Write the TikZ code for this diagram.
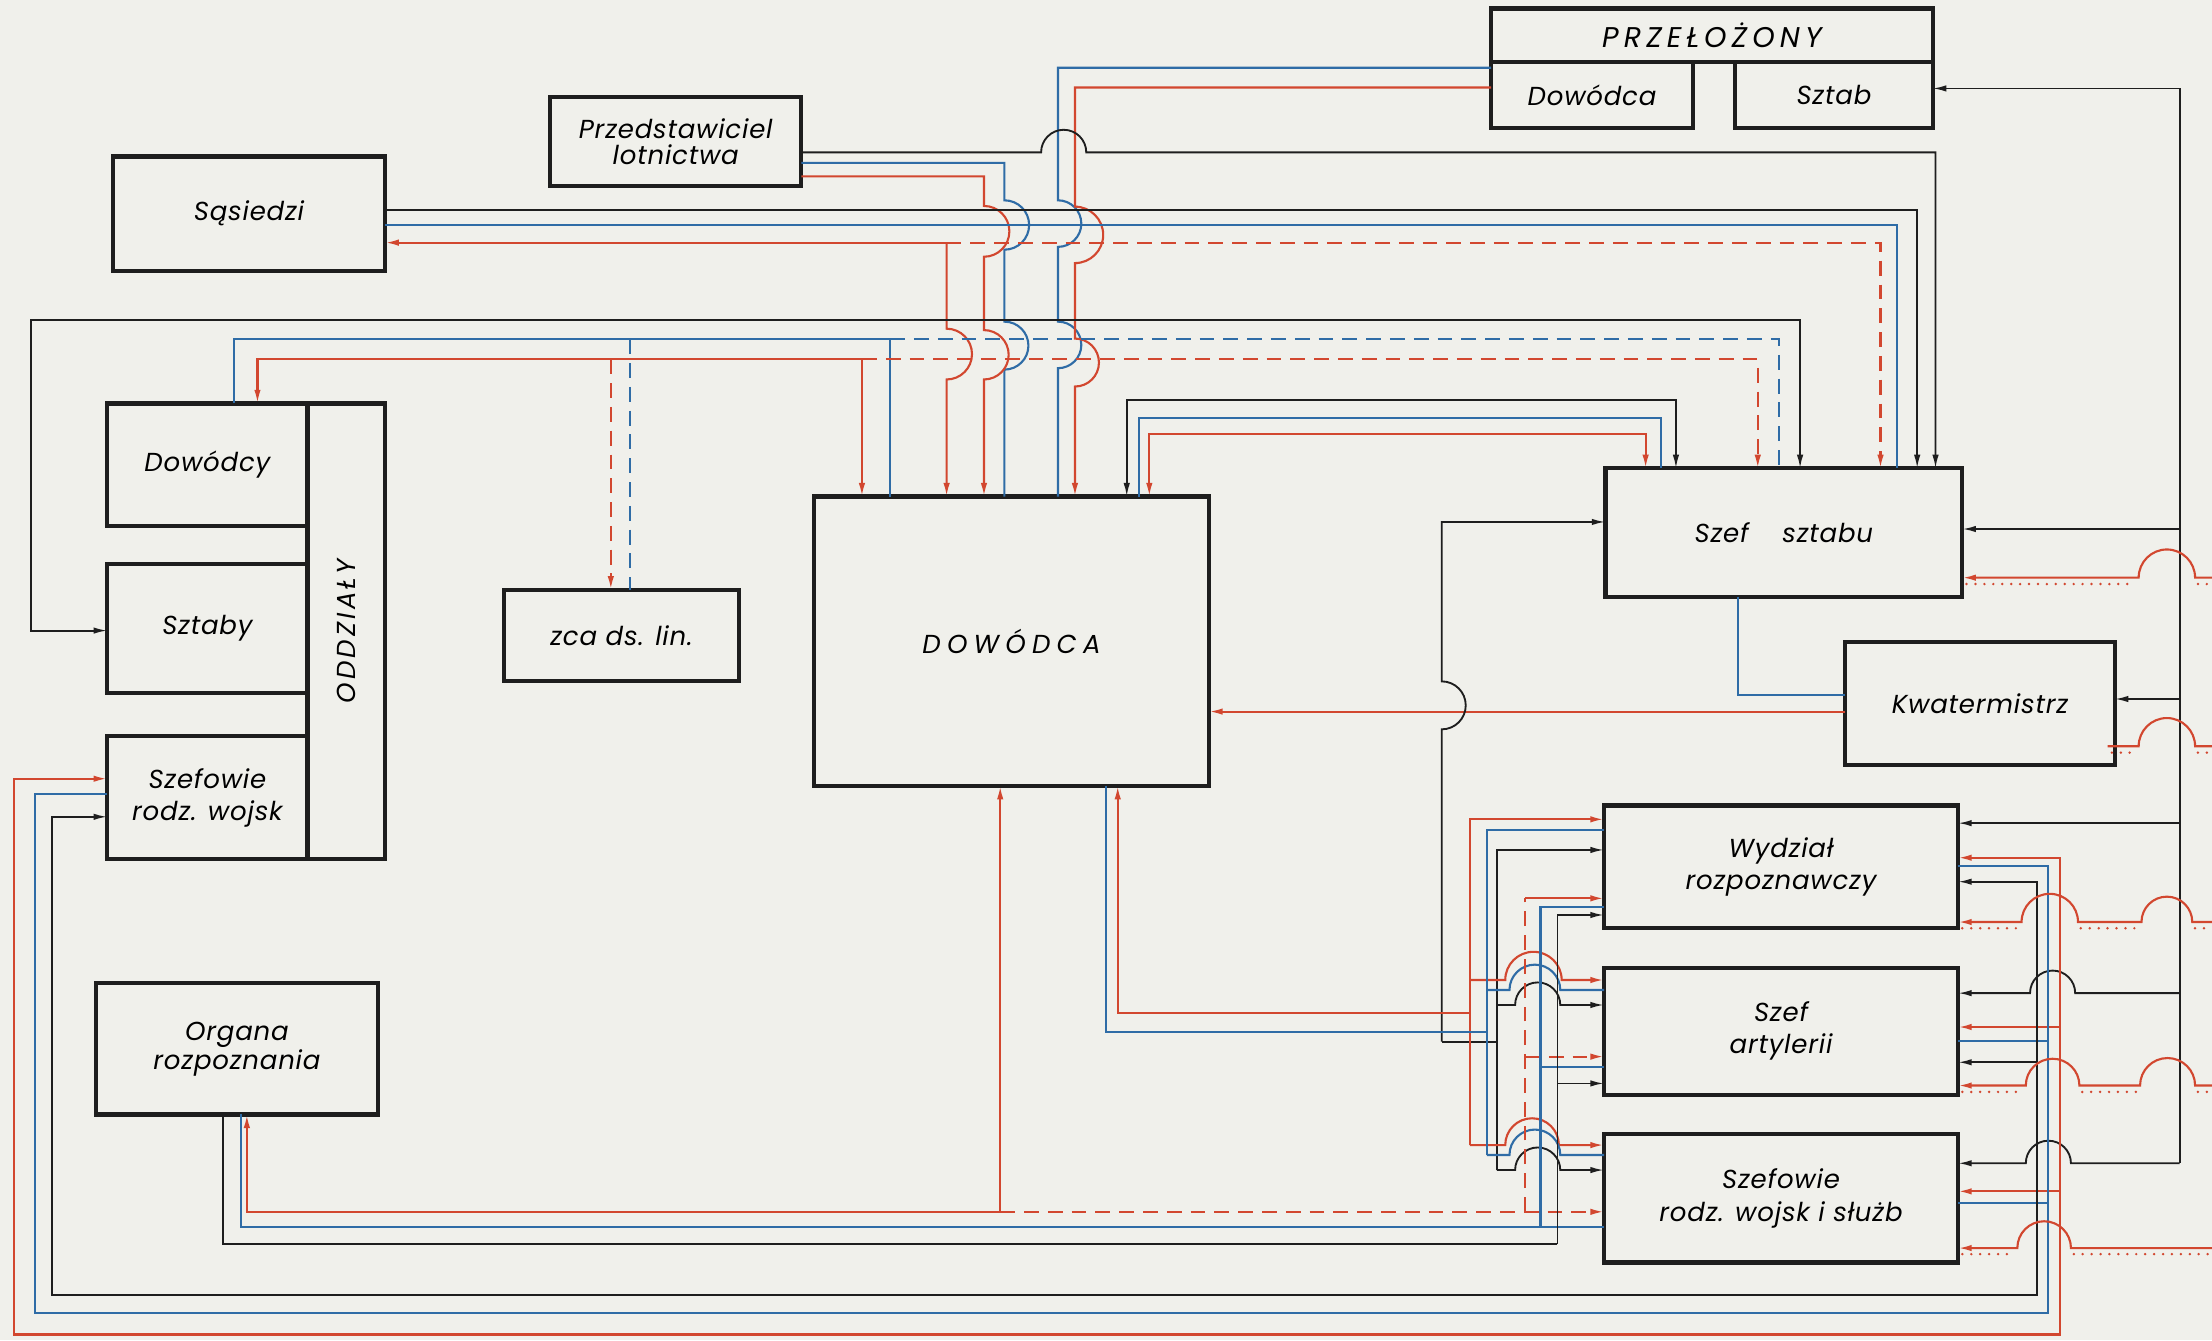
\documentclass[tikz,border=0pt]{standalone}
\usepackage{fontspec}
\usepackage{tikz}
\usetikzlibrary{arrows.meta}
\newfontfamily\lett{Poppins}[LetterSpace=3]
\newfontfamily\lettm{Poppins}[LetterSpace=12]
\newfontfamily\letth{Poppins}[LetterSpace=18]
\newfontfamily\lettw{Poppins}[LetterSpace=24]
\newcommand{\bxfont}{\lett\itshape\fontsize{10.5}{13}\selectfont}
\definecolor{paper}{HTML}{F0F0EB}
\definecolor{ink}{HTML}{1E1E1E}
\definecolor{lnRed}{HTML}{D2472F}
\definecolor{lnBlue}{HTML}{2F6CA6}

\tikzset{
  box/.style={draw=ink, line width=1.7pt, inner sep=1pt, outer sep=0pt, align=center, font=\bxfont},
  lred/.style={draw=lnRed, line width=0.85pt},
  lblue/.style={draw=lnBlue, line width=0.85pt},
  lblack/.style={draw=ink, line width=0.75pt},
  brk/.style={dash pattern=on 6pt off 3.6pt},
  dotrow/.style={draw=lnRed, line width=1.1pt, line cap=round, dash pattern=on 0pt off 3.6pt},
}

\begin{document}
\begin{tikzpicture}[x=0.2mm, y=-0.2mm, >={Latex[length=5.5pt,width=2.6pt]}]
  % Paper
  \fill[paper] (0,0) rectangle (1568,950);
  \useasboundingbox (0,0) rectangle (1568,950);

  % Boxes
  \node[box, minimum width=62.6mm, minimum height=7.6mm, font=\letth\itshape\fontsize{11.5}{13}\selectfont] (prz) at (1213.5,25) {PRZEŁOŻONY};
  \node[box, minimum width=28.6mm, minimum height=9.4mm] (przd) at (1128.5,67.5) {Dowódca};
  \node[box, minimum width=28mm, minimum height=9.4mm] (przs) at (1300,67.5) {Sztab};
  \node[box, minimum width=35.6mm, minimum height=12.6mm, font=\lett\itshape\fontsize{10.5}{10.5}\selectfont] (lot) at (479,100.5) {Przedstawiciel\\lotnictwa};
  \node[box, minimum width=38.6mm, minimum height=16.2mm] (sas) at (176.5,151.5) {Sąsiedzi};
  \node[box, minimum width=11mm, minimum height=64.6mm] (odd) at (245.5,447.5) {};
  \node[font=\lettm\itshape\fontsize{10.5}{13}\selectfont, rotate=90] (oddt) at (odd.center) {ODDZIAŁY};
  \node[box, minimum width=28.4mm, minimum height=17.4mm] (ddc) at (147,329.5) {Dowódcy};
  \node[box, minimum width=28.4mm, minimum height=18.2mm] (szb) at (147,445.5) {Sztaby};
  \node[box, minimum width=28.4mm, minimum height=17.4mm] (szw) at (147,565.5) {Szefowie\\rodz. wojsk};
  \node[box, minimum width=33.4mm, minimum height=13mm] (zca) at (440.5,450.5) {zca ds. lin.};
  \node[box, minimum width=56mm, minimum height=41mm, font=\lettw\itshape\fontsize{10.5}{13}\selectfont] (dow) at (717,454.5) {DOWÓDCA};
  \node[box, minimum width=50.6mm, minimum height=18.2mm] (ssz) at (1264.5,377.5) {Szef\hspace{1.3em}sztabu};
  \node[box, minimum width=38.2mm, minimum height=17.4mm] (kwa) at (1403.5,498.5) {Kwatermistrz};
  \node[box, minimum width=50.2mm, minimum height=17.4mm] (wyd) at (1262.5,614.5) {Wydział\\rozpoznawczy};
  \node[box, minimum width=50.2mm, minimum height=18mm] (art) at (1262.5,731) {Szef\\artylerii};
  \node[box, minimum width=50.2mm, minimum height=18.2mm] (srw) at (1262.5,849.5) {Szefowie\\rodz. wojsk i służb};
  \node[box, minimum width=40mm, minimum height=18.6mm, font=\lett\itshape\fontsize{10.5}{10.5}\selectfont] (org) at (168,743.5) {Organa\\rozpoznania};

  % Przelozony -> Dowodca
  \draw[lblue] (przd.west |- 0,48) -- (750,48) -- (750,142)
    arc[start angle=-90,end angle=90,radius=16.5] -- (750,228)
    arc[start angle=-90,end angle=90,radius=16.5] -- (750,0 |- dow.north);
  \draw[lred, ->] (przd.west |- 0,62) -- (762,62) -- (762,146.5)
    arc[start angle=-90,end angle=90,radius=20] -- (762,240)
    arc[start angle=-90,end angle=90,radius=17] -- (762,0 |- dow.north);

  % Przedstawiciel lotnictwa
  \draw[lblack, ->] (lot.east |- 0,108) -- (738,108)
    arc[start angle=180,end angle=360,radius=16] -- (1372,108) -- (1372,0 |- ssz.north);
  \draw[lblue] (lot.east |- 0,115.5) -- (712,115.5) -- (712,142)
    arc[start angle=-90,end angle=90,radius=17.5] -- (712,228)
    arc[start angle=-90,end angle=90,radius=17] -- (712,0 |- dow.north);
  \draw[lred, ->] (lot.east |- 0,125) -- (697.5,125) -- (697.5,146)
    arc[start angle=-90,end angle=90,radius=18] -- (697.5,234)
    arc[start angle=-90,end angle=90,radius=17.5] -- (697.5,0 |- dow.north);

  % Sasiedzi
  \draw[lblack, ->] (sas.east |- 0,149) -- (1359,149) -- (1359,0 |- ssz.north);
  \draw[lblue] (sas.east |- 0,159.5) -- (1345,159.5) -- (1345,0 |- ssz.north);
  \coordinate (j1) at (671,172);
  \draw[lred, ->] (j1) -- (sas.east |- j1);
  \draw[lred, ->] (j1) -- (671,233) arc[start angle=-90,end angle=90,radius=18] -- (671,0 |- dow.north);
  \draw[lred, brk, ->] (j1) -- (1333,172) -- (1333,0 |- ssz.north);

  % Oddzialy
  \draw[lblack, <->] (szb.west |- 0,447) -- (22,447) -- (22,227) -- (1276,227) -- (1276,0 |- ssz.north);
  \draw[lblue] (166,0 |- ddc.north) -- (166,240.5) -- (631,240.5) -- (631,0 |- dow.north);
  \draw[lblue, brk] (631,240.5) -- (1261,240.5) -- (1261,0 |- ssz.north);
  \draw[lblue, brk] (446.5,240.5) -- (446.5,0 |- zca.north);
  \draw[lred, <->] (182.5,0 |- ddc.north) -- (182.5,254.7) -- (611,254.7) -- (611,0 |- dow.north);
  \draw[lred, brk, ->] (611,254.7) -- (1246,254.7) -- (1246,0 |- ssz.north);
  \draw[lred, brk, ->] (433,254.7) -- (433,0 |- zca.north);

  % Dowodca - Szef sztabu
  \draw[lblack, <->] (798.7,0 |- dow.north) -- (798.7,283.7) -- (1188,283.7) -- (1188,0 |- ssz.north);
  \draw[lblue] (807.5,0 |- dow.north) -- (807.5,296.5) -- (1177.5,296.5) -- (1177.5,0 |- ssz.north);
  \draw[lred, <->] (814.7,0 |- dow.north) -- (814.7,307.5) -- (1166.5,307.5) -- (1166.5,0 |- ssz.north);
  \draw[lred, ->] (kwa.west |- 0,504.4) -- (dow.east |- 0,504.4);
  \draw[lblue] (1232,0 |- ssz.south) -- (1232,492.6) -- (kwa.west |- 0,492.6);

  % Right trunk
  \draw[lblack, ->] (1545,62.7) -- (przs.east |- 0,62.7);
  \draw[lblack] (1545,62.7) -- (1545,824.6);
  \foreach \yy/\bx in {375/ssz, 495.5/kwa, 583.5/wyd}
    \draw[lblack, ->] (1545,\yy) -- (\bx.east |- 0,\yy);
  \draw[lblack, ->] (1545,704) -- (1471,704) arc[start angle=0,end angle=-180,radius=16] -- (art.east |- 0,704);
  \draw[lblack, ->] (1545,824.6) -- (1468,824.6) arc[start angle=0,end angle=-180,radius=16] -- (srw.east |- 0,824.6);

  % Bottom loops
  \draw[lred, <->] (szw.west |- 0,552) -- (10,552) -- (10,946) -- (1460,946) -- (1460,608) -- (wyd.east |- 0,608);
  \draw[lred, ->] (1460,728) -- (art.east |- 0,728);
  \draw[lred, ->] (1460,844.5) -- (srw.east |- 0,844.5);
  \draw[lblue] (szw.west |- 0,563) -- (25,563) -- (25,931) -- (1452,931) -- (1452,614) -- (wyd.east |- 0,614);
  \draw[lblue] (1452,737.7) -- (art.east |- 0,737.7);
  \draw[lblue] (1452,853) -- (srw.east |- 0,853);
  \draw[lblack, <->] (szw.west |- 0,579) -- (37,579) -- (37,918) -- (1443.7,918) -- (1443.7,625) -- (wyd.east |- 0,625);
  \draw[lblack, ->] (1443.7,753) -- (art.east |- 0,753);

  % Red lines from the right edge
  \draw[lred, ->] (1568,409.5) -- (1556,409.5) arc[start angle=0,end angle=-180,radius=20] -- (ssz.east |- 0,409.5);
  \draw[lred] (1568,529) -- (1556,529) arc[start angle=0,end angle=-180,radius=20] -- (1494,529);
  \draw[lred, ->] (1568,653.6) -- (1554,653.6) arc[start angle=0,end angle=-180,radius=18]
    -- (1473,653.6) arc[start angle=0,end angle=-180,radius=20] -- (wyd.east |- 0,653.6);
  \draw[lred, ->] (1568,769.5) -- (1556,769.5) arc[start angle=0,end angle=-180,radius=19.5]
    -- (1474,769.5) arc[start angle=0,end angle=-180,radius=19] -- (art.east |- 0,769.5);
  \draw[lred, ->] (1568,884.7) -- (1468,884.7) arc[start angle=0,end angle=-180,radius=19] -- (srw.east |- 0,884.7);
  \foreach \ya/\xa/\xb in {414/1394/1514, 414/1558/1568, 533.5/1497/1514, 533.5/1558/1568,
      658/1391/1431, 658/1475/1516, 658/1556/1568, 774/1391/1434, 774/1476/1515, 774/1558/1568,
      889/1391/1428, 889/1470/1568}
    \draw[dotrow] (\xa,\ya) -- (\xb,\ya);

  % Szef sztabu -> lower sections
  \draw[lblack, ->] (1022,738.4) -- (1022,517) arc[start angle=90,end angle=-90,radius=17] -- (1022,370) -- (ssz.west |- 0,370);
  \draw[lblack] (1022,738.4) -- (1061,738.4);
  \draw[lblack, ->] (1061,829.4) -- (1061,602.5) -- (wyd.west |- 0,602.5);
  \draw[lblack, ->] (1061,712.4) -- (1074,712.4) arc[start angle=180,end angle=360,radius=16] -- (art.west |- 0,712.4);
  \draw[lblack, ->] (1061,829.4) -- (1074,829.4) arc[start angle=180,end angle=360,radius=16] -- (srw.west |- 0,829.4);

  % Dowodca -> lower sections
  \draw[lred, ->] (1042,718) -- (792.3,718) -- (792.3,0 |- dow.south);
  \draw[lred, ->] (1042,811.7) -- (1042,580.8) -- (wyd.west |- 0,580.8);
  \draw[lred, ->] (1042,694.7) -- (1067,694.7) arc[start angle=180,end angle=360,radius=20] -- (art.west |- 0,694.7);
  \draw[lred, ->] (1042,811.7) -- (1067,811.7) arc[start angle=180,end angle=360,radius=19] -- (srw.west |- 0,811.7);
  \draw[lblue] (784,0 |- dow.south) -- (784,731.8) -- (1054,731.8);
  \draw[lblue] (1054,818.7) -- (1054,588.4) -- (wyd.west |- 0,588.4);
  \draw[lblue] (1054,701.8) -- (1070,701.8) arc[start angle=180,end angle=360,radius=18] -- (art.west |- 0,701.8);
  \draw[lblue] (1054,818.7) -- (1070,818.7) arc[start angle=180,end angle=360,radius=18] -- (srw.west |- 0,818.7);

  % Organa rozpoznania
  \draw[lred, ->] (709,859) -- (709,0 |- dow.south);
  \draw[lred, ->] (709,859) -- (175,859) -- (175,0 |- org.south);
  \draw[lred, brk, ->] (709,859) -- (srw.west |- 0,859);
  \draw[lblue] (170.6,0 |- org.south) -- (170.6,870) -- (srw.west |- 0,870);
  \draw[lblack] (158,0 |- org.south) -- (158,882) -- (1104,882);
  \draw[lred, brk] (1081,859) -- (1081,636.8);
  \draw[lred, ->] (1081,636.8) -- (wyd.west |- 0,636.8);
  \draw[lred, brk, ->] (1081,749) -- (art.west |- 0,749);
  \draw[lblue] (1092,870) -- (1092,642.7) -- (wyd.west |- 0,642.7);
  \draw[lblue] (1092,756.6) -- (art.west |- 0,756.6);
  \draw[lblack, ->] (1104,882) -- (1104,648.6) -- (wyd.west |- 0,648.6);
  \draw[lblack, ->] (1104,768) -- (art.west |- 0,768);
\end{tikzpicture}
\end{document}
